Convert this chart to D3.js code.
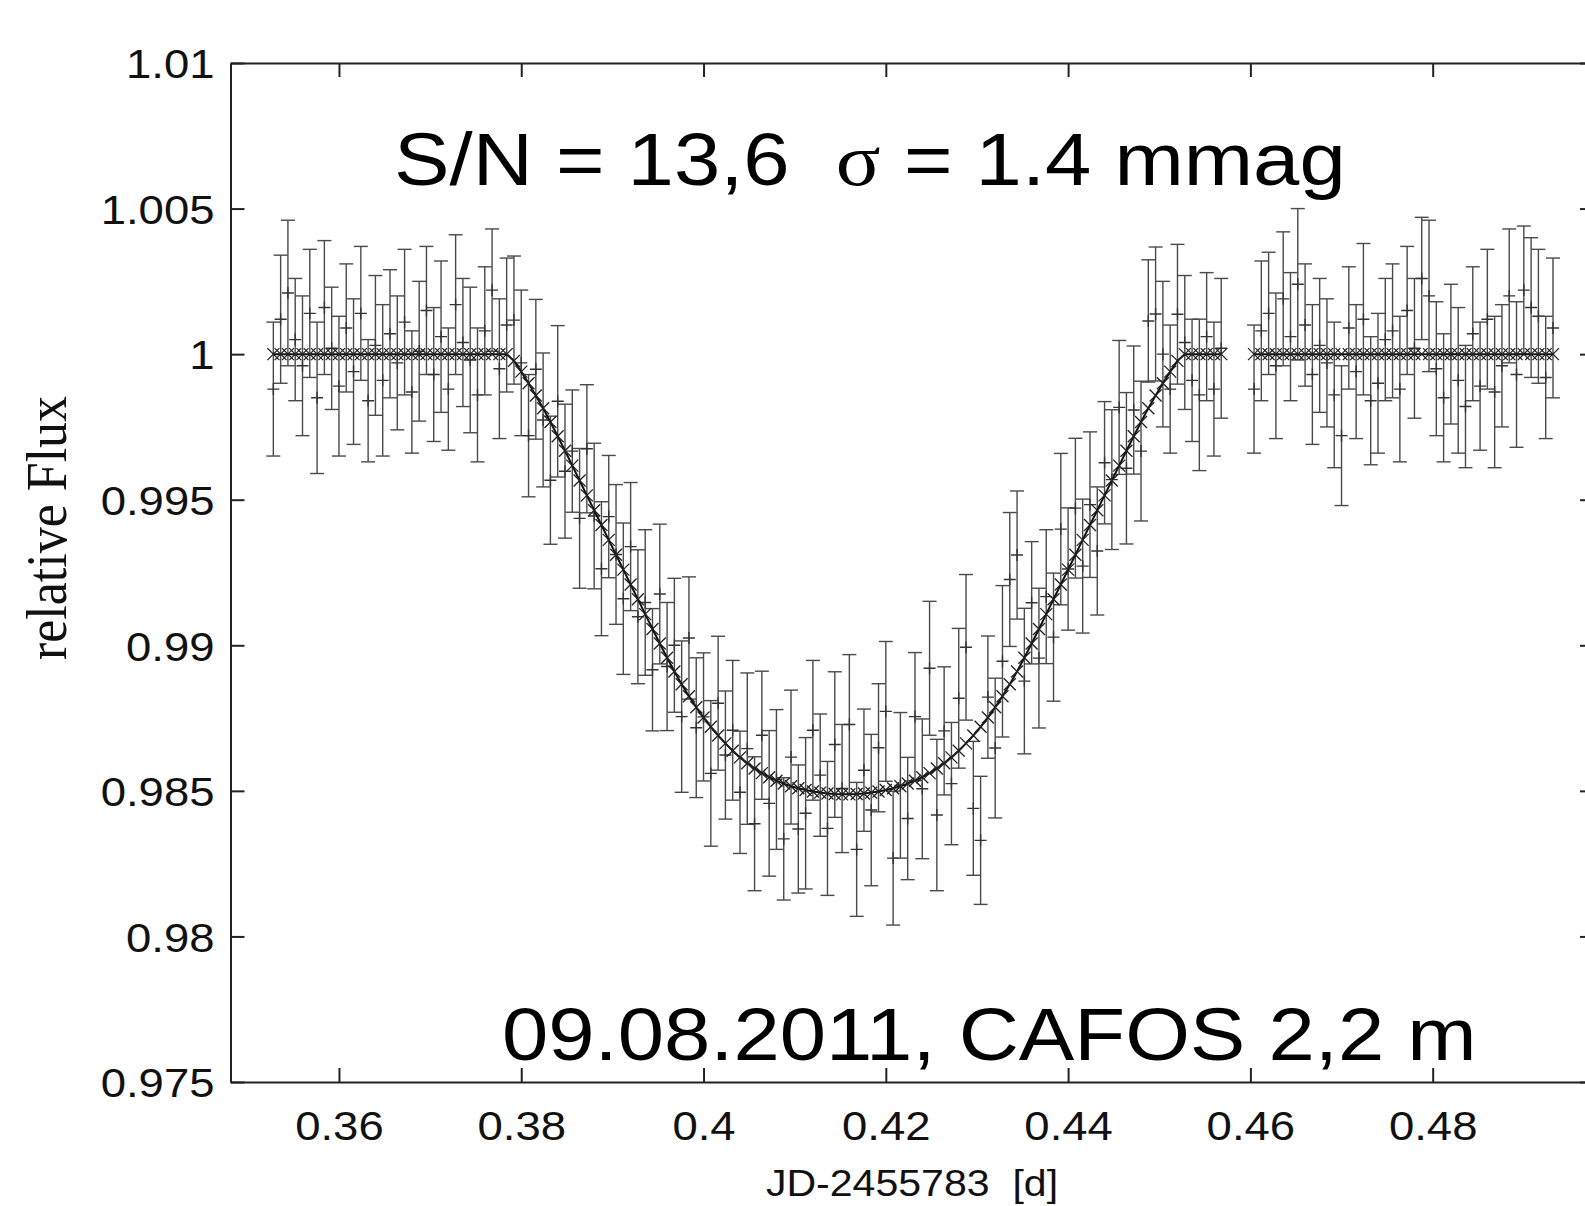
<!DOCTYPE html>
<html>
<head>
<meta charset="utf-8">
<script src="https://cdn.jsdelivr.net/npm/d3@7"></script>
<style>
  html, body { margin: 0; padding: 0; background: #fff; }
  svg { display: block; }
  text { white-space: pre; }
</style>
</head>
<body>
<div id="graphDiv"></div>
<script>
// Transit light curve, 09.08.2011, CAFOS 2.2 m

// tick values / labels
var xTicks = [0.36, 0.38, 0.40, 0.42, 0.44, 0.46, 0.48];
var xTickLabels = ["0.36", "0.38", "0.4", "0.42", "0.44", "0.46", "0.48"];
var yTicks = [1.01, 1.005, 1.0, 0.995, 0.99, 0.985, 0.98, 0.975];
var yTickLabels = ["1.01", "1.005", "1", "0.995", "0.99", "0.985", "0.98", "0.975"];

// first block of observations (before the gap)
var time1 = [
  0.3528, 0.3536, 0.3544, 0.3552, 0.3560, 0.3568, 0.3576, 0.3584, 0.3592, 0.3600,
  0.3608, 0.3616, 0.3624, 0.3632, 0.3640, 0.3648, 0.3656, 0.3664, 0.3672, 0.3680,
  0.3688, 0.3696, 0.3704, 0.3712, 0.3720, 0.3728, 0.3736, 0.3744, 0.3752, 0.3760,
  0.3768, 0.3776, 0.3784, 0.3792, 0.3800, 0.3808, 0.3816, 0.3824, 0.3832, 0.3840,
  0.3848, 0.3856, 0.3864, 0.3872, 0.3880, 0.3888, 0.3896, 0.3904, 0.3912, 0.3920,
  0.3928, 0.3936, 0.3944, 0.3952, 0.3960, 0.3968, 0.3976, 0.3984, 0.3992, 0.4000,
  0.4008, 0.4016, 0.4024, 0.4032, 0.4040, 0.4048, 0.4056, 0.4064, 0.4072, 0.4080,
  0.4088, 0.4096, 0.4104, 0.4112, 0.4120, 0.4128, 0.4136, 0.4144, 0.4152, 0.4160,
  0.4168, 0.4176, 0.4184, 0.4192, 0.4200, 0.4208, 0.4216, 0.4224, 0.4232, 0.4240,
  0.4248, 0.4256, 0.4264, 0.4272, 0.4280, 0.4288, 0.4296, 0.4304, 0.4312, 0.4320,
  0.4328, 0.4336, 0.4344, 0.4352, 0.4360, 0.4368, 0.4376, 0.4384, 0.4392, 0.4400,
  0.4408, 0.4416, 0.4424, 0.4432, 0.4440, 0.4448, 0.4456, 0.4464, 0.4472, 0.4480,
  0.4488, 0.4496, 0.4504, 0.4512, 0.4520, 0.4528, 0.4536, 0.4544, 0.4552, 0.4560,
  0.4568
];
var flux1 = [
  0.99880, 1.00120, 1.00210, 1.00050, 0.99960, 1.00140, 0.99850, 1.00160, 1.00020, 0.99890,
  1.00090, 0.99940, 1.00140, 0.99840, 1.00030, 0.99910, 1.00070, 0.99970, 1.00110, 0.99870,
  1.00010, 1.00150, 0.99930, 1.00060, 0.99880, 1.00170, 1.00040, 0.99980, 0.99860, 1.00080,
  1.00220, 0.99950, 1.00100, 1.00117, 0.99970, 0.99720, 0.99948, 0.99774, 0.99567, 0.99838,
  0.99598, 0.99667, 0.99436, 0.99675, 0.99444, 0.99263, 0.99442, 0.99312, 0.99160, 0.99339,
  0.99098, 0.99147, 0.98916, 0.99176, 0.98927, 0.99000, 0.98755, 0.99025, 0.98717, 0.98754,
  0.98560, 0.98801, 0.98623, 0.98708, 0.98495, 0.98645, 0.98387, 0.98691, 0.98457, 0.98539,
  0.98335, 0.98616, 0.98369, 0.98423, 0.98708, 0.98554, 0.98371, 0.98659, 0.98508, 0.98728,
  0.98299, 0.98571, 0.98434, 0.98648, 0.98773, 0.98269, 0.98519, 0.98405, 0.98755, 0.98507,
  0.98921, 0.98417, 0.98706, 0.98525, 0.98818, 0.98993, 0.98440, 0.98330, 0.98822, 0.98647,
  0.98945, 0.99226, 0.99310, 0.98877, 0.99146, 0.98956, 0.99167, 0.99028, 0.99399, 0.99262,
  0.99471, 0.99272, 0.99483, 0.99324, 0.99627, 0.99569, 0.99817, 0.99608, 0.99808, 0.99667,
  1.00114, 1.00138, 1.00000, 0.99880, 1.00137, 1.00040, 0.99910, 0.99860, 1.00060, 0.99880,
  1.00020
];
var err1 = [
  0.0023, 0.0022, 0.0025, 0.0021, 0.0024, 0.0022, 0.0026, 0.0023, 0.0021, 0.0024,
  0.0022, 0.0025, 0.0023, 0.0021, 0.0024, 0.0026, 0.0022, 0.0023, 0.0025, 0.0021,
  0.0024, 0.0022, 0.0023, 0.0026, 0.0021, 0.0024, 0.0022, 0.0025, 0.0023, 0.0022,
  0.0021, 0.0024, 0.0023, 0.0022, 0.0025, 0.0021, 0.0024, 0.0023, 0.0022, 0.0026,
  0.0023, 0.0021, 0.0024, 0.0022, 0.0025, 0.0023, 0.0021, 0.0024, 0.0026, 0.0022,
  0.0023, 0.0025, 0.0021, 0.0024, 0.0022, 0.0023, 0.0026, 0.0021, 0.0024, 0.0022,
  0.0025, 0.0023, 0.0022, 0.0024, 0.0021, 0.0026, 0.0023, 0.0022, 0.0025, 0.0024,
  0.0021, 0.0023, 0.0022, 0.0026, 0.0024, 0.0021, 0.0023, 0.0025, 0.0022, 0.0024,
  0.0023, 0.0021, 0.0026, 0.0022, 0.0024, 0.0023, 0.0025, 0.0021, 0.0022, 0.0024,
  0.0023, 0.0026, 0.0022, 0.0021, 0.0024, 0.0025, 0.0023, 0.0022, 0.0021, 0.0024,
  0.0026, 0.0023, 0.0022, 0.0025, 0.0021, 0.0024, 0.0023, 0.0022, 0.0026, 0.0021,
  0.0024, 0.0023, 0.0025, 0.0022, 0.0021, 0.0024, 0.0023, 0.0026, 0.0022, 0.0024,
  0.0021, 0.0023, 0.0025, 0.0022, 0.0024, 0.0023, 0.0021, 0.0026, 0.0022, 0.0023,
  0.0024
];
// fitted transit model at the same times
var model1 = [
  1, 1, 1, 1, 1, 1, 1, 1, 1, 1,
  1, 1, 1, 1, 1, 1, 1, 1, 1, 1,
  1, 1, 1, 1, 1, 1, 1, 1, 1, 1,
  1, 1, 1, 0.99977, 0.99940, 0.99900, 0.99858, 0.99814, 0.99767, 0.99718,
  0.99668, 0.99617, 0.99566, 0.99515, 0.99464, 0.99413, 0.99362, 0.99311, 0.99260, 0.99209,
  0.99158, 0.99107, 0.99056, 0.99006, 0.98957, 0.98910, 0.98866, 0.98825, 0.98787, 0.98752,
  0.98720, 0.98690, 0.98663, 0.98638, 0.98615, 0.98595, 0.98577, 0.98561, 0.98547, 0.98535,
  0.98525, 0.98516, 0.98509, 0.98503, 0.98498, 0.98494, 0.98491, 0.98489, 0.98488, 0.98488,
  0.98489, 0.98491, 0.98494, 0.98498, 0.98503, 0.98509, 0.98516, 0.98525, 0.98535, 0.98547,
  0.98561, 0.98577, 0.98595, 0.98615, 0.98638, 0.98663, 0.98690, 0.98720, 0.98752, 0.98787,
  0.98825, 0.98866, 0.98910, 0.98957, 0.99006, 0.99056, 0.99107, 0.99158, 0.99209, 0.99260,
  0.99311, 0.99362, 0.99413, 0.99464, 0.99515, 0.99566, 0.99617, 0.99668, 0.99718, 0.99767,
  0.99814, 0.99858, 0.99900, 0.99940, 0.99977, 1, 1, 1, 1, 1,
  1
];

// second block of observations (after the gap)
var time2 = [
  0.4604, 0.4612, 0.4620, 0.4628, 0.4636, 0.4644, 0.4652, 0.4660, 0.4668, 0.4676,
  0.4684, 0.4692, 0.4700, 0.4708, 0.4716, 0.4724, 0.4732, 0.4740, 0.4748, 0.4756,
  0.4764, 0.4772, 0.4780, 0.4788, 0.4796, 0.4804, 0.4812, 0.4820, 0.4828, 0.4836,
  0.4844, 0.4852, 0.4860, 0.4868, 0.4876, 0.4884, 0.4892, 0.4900, 0.4908, 0.4916,
  0.4924, 0.4932
];
var flux2 = [
  0.99880, 1.00080, 1.00140, 0.99960, 1.00190, 1.00060, 1.00240, 1.00100, 0.99930, 1.00030,
  0.99970, 0.99860, 0.99720, 1.00090, 0.99940, 1.00120, 0.99840, 0.99900, 1.00050, 1.00080,
  0.99880, 1.00150, 1.00020, 1.00260, 1.00200, 0.99950, 0.99850, 1.00000, 0.99910, 0.99820,
  1.00070, 0.99890, 1.00120, 0.99870, 0.99960, 1.00200, 0.99930, 1.00220, 1.00160, 1.00130,
  0.99920, 1.00090
];
var err2 = [
  0.0022, 0.0024, 0.0021, 0.0025, 0.0023, 0.0022, 0.0026, 0.0021, 0.0024, 0.0023,
  0.0022, 0.0025, 0.0024, 0.0021, 0.0023, 0.0026, 0.0022, 0.0024, 0.0021, 0.0023,
  0.0025, 0.0022, 0.0024, 0.0021, 0.0026, 0.0023, 0.0022, 0.0024, 0.0025, 0.0021,
  0.0023, 0.0022, 0.0024, 0.0026, 0.0021, 0.0023, 0.0025, 0.0022, 0.0024, 0.0023,
  0.0021, 0.0024
];
var model2 = [
  1, 1, 1, 1, 1, 1, 1, 1, 1, 1,
  1, 1, 1, 1, 1, 1, 1, 1, 1, 1,
  1, 1, 1, 1, 1, 1, 1, 1, 1, 1,
  1, 1, 1, 1, 1, 1, 1, 1, 1, 1,
  1, 1
];

var W = 1585, H = 1206;
var stretch = 1.11; // the original picture is a bit wider than tall
var sansFont = "'Liberation Sans', Arial, Helvetica, sans-serif";
var serifFont = "'Liberation Serif', 'Times New Roman', serif";
var frameColor = "#222";

function toPoints(t, f, e, m) {
    return t.map(function (d, i) {
        return {t: d, f: f[i], e: e[i], m: m[i]};
    });
}
var segments = [toPoints(time1, flux1, err1, model1), toPoints(time2, flux2, err2, model2)];

var xScale = d3.scaleLinear().domain([0.3481, 0.4977]).range([230.5, 1594]);
var yScale = d3.scaleLinear().domain([0.975, 1.01]).range([1082, 63]);

var svg = d3.select("#graphDiv").append("svg")
    .attr("width", W)
    .attr("height", H)
    .style("background", "#fff");

// error bars + data points
var pts = svg.append("g").attr("class", "data")
    .attr("stroke", "#4a4a4a")
    .attr("stroke-width", 1.4)
    .attr("fill", "none");

segments.forEach(function (seg) {
    var g = pts.append("g");
    var p = g.selectAll("g.pt").data(seg).enter().append("g").attr("class", "pt");
    p.append("line")
        .attr("x1", function (d) { return xScale(d.t); })
        .attr("x2", function (d) { return xScale(d.t); })
        .attr("y1", function (d) { return yScale(d.f - d.e); })
        .attr("y2", function (d) { return yScale(d.f + d.e); });
    // caps
    [-1, 1].forEach(function (s) {
        p.append("line")
            .attr("x1", function (d) { return xScale(d.t) - 7; })
            .attr("x2", function (d) { return xScale(d.t) + 7; })
            .attr("y1", function (d) { return yScale(d.f + s * d.e); })
            .attr("y2", function (d) { return yScale(d.f + s * d.e); });
    });
    // "+" marker
    p.append("path")
        .attr("stroke", "#333")
        .attr("d", function (d) {
            var cx = xScale(d.t), cy = yScale(d.f);
            return "M" + (cx - 6) + "," + cy + "H" + (cx + 6) + "M" + cx + "," + (cy - 6) + "V" + (cy + 6);
        });
});

// model curve with x markers
var lineFunc = d3.line()
    .x(function (d) { return xScale(d.t); })
    .y(function (d) { return yScale(d.m); });

var mod = svg.append("g").attr("class", "model");
segments.forEach(function (seg) {
    mod.append("path")
        .attr("d", lineFunc(seg))
        .attr("fill", "none")
        .attr("stroke", "#111")
        .attr("stroke-width", 2);
    mod.append("g").selectAll("path").data(seg).enter().append("path")
        .attr("fill", "none")
        .attr("stroke", "#222")
        .attr("stroke-width", 1.3)
        .attr("d", function (d) {
            var cx = xScale(d.t), cy = yScale(d.m), r = 6;
            return "M" + (cx - r) + "," + (cy - r) + "L" + (cx + r) + "," + (cy + r) +
                "M" + (cx - r) + "," + (cy + r) + "L" + (cx + r) + "," + (cy - r);
        });
});

// axes (ticks point inwards, gnuplot style)
var axBottom = svg.append("g").attr("class", "x axis")
    .attr("transform", "translate(0," + yScale(0.975) + ")")
    .call(d3.axisBottom(xScale).tickValues(xTicks).tickSize(-14).tickSizeOuter(0)
        .tickFormat(function (d, i) { return xTickLabels[i]; }));
axBottom.selectAll("text")
    .attr("y", 0).attr("dy", null)
    .attr("transform", "translate(0,58) scale(" + stretch + ",1)");

svg.append("g").attr("class", "x2 axis")
    .attr("transform", "translate(0," + yScale(1.01) + ")")
    .call(d3.axisTop(xScale).tickValues(xTicks).tickSize(-14).tickSizeOuter(0).tickFormat(""));

var axLeft = svg.append("g").attr("class", "y axis")
    .attr("transform", "translate(" + xScale(0.3481) + ",0)")
    .call(d3.axisLeft(yScale).tickValues(yTicks).tickSize(-14).tickSizeOuter(0)
        .tickFormat(function (d, i) { return yTickLabels[i]; }));
axLeft.selectAll("text")
    .attr("x", 0).attr("dy", "0.36em")
    .attr("transform", "translate(-16,0) scale(" + stretch + ",1)");

svg.append("g").attr("class", "y2 axis")
    .attr("transform", "translate(" + xScale(0.4977) + ",0)")
    .call(d3.axisRight(yScale).tickValues(yTicks).tickSize(-14).tickSizeOuter(0).tickFormat(""));

svg.selectAll(".axis").selectAll("line,path")
    .attr("stroke", frameColor)
    .attr("stroke-width", 2);
svg.selectAll(".axis").selectAll("text")
    .attr("fill", "#111")
    .style("font-family", sansFont)
    .style("font-size", "41px");

// axis titles
svg.append("text")
    .attr("transform", "translate(912,1196) scale(" + stretch + ",1)")
    .attr("text-anchor", "middle")
    .style("font-family", sansFont)
    .style("font-size", "37px")
    .attr("fill", "#111")
    .text("JD-2455783  [d]");

svg.append("text")
    .attr("transform", "translate(66,528) scale(" + stretch + ",1) rotate(-90)")
    .attr("text-anchor", "middle")
    .style("font-family", serifFont)
    .style("font-size", "52px")
    .attr("fill", "#111")
    .text("relative Flux");

// annotations
var note1 = svg.append("text")
    .attr("transform", "translate(394,185) scale(" + stretch + ",1)")
    .style("font-family", sansFont)
    .style("font-size", "75px")
    .attr("fill", "#000");
note1.append("tspan").text("S/N = 13,6  ");
note1.append("tspan").style("font-family", serifFont).text("σ");
note1.append("tspan").text(" = 1.4 mmag");

svg.append("text")
    .attr("transform", "translate(502,1060) scale(" + stretch + ",1)")
    .style("font-family", sansFont)
    .style("font-size", "75px")
    .attr("fill", "#000")
    .text("09.08.2011, CAFOS 2,2 m");
</script>
</body>
</html>
